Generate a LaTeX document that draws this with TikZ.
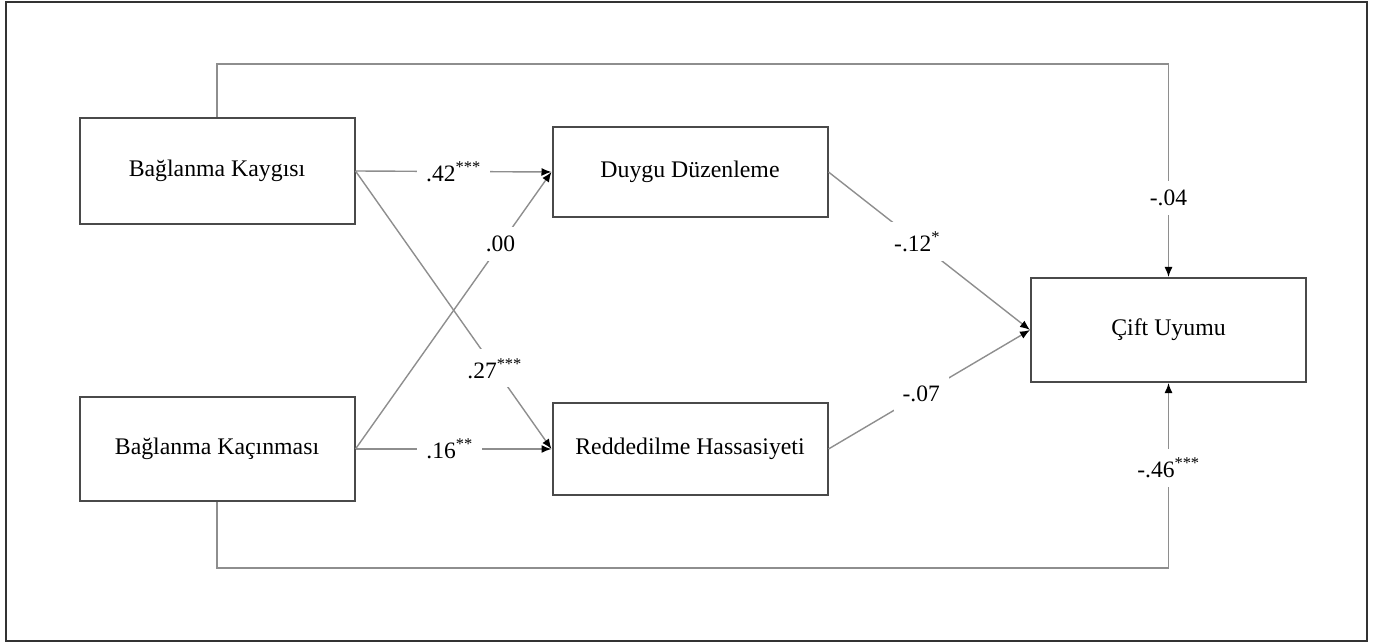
\documentclass[tikz,border=0pt]{standalone}
\usepackage{fontspec}
\setmainfont{Liberation Serif}
\usetikzlibrary{arrows.meta}
\definecolor{boxline}{HTML}{4A4A4A}
\definecolor{conn}{HTML}{8E8E8E}
\tikzset{
  varbox/.style={draw=boxline, line width=2pt, inner sep=0pt, minimum width=275pt,
     font=\fontsize{23.8}{28}\selectfont, text=black},
  path/.style={draw=conn, line width=1.4pt, -{Latex[length=10pt,width=8pt,black]}},
  coef/.style={fill=white, inner sep=9pt, font=\fontsize{23.5}{28}\selectfont, text=black},
}
\begin{document}
\begin{tikzpicture}[x=1pt,y=-1pt]
\useasboundingbox (0,0) rectangle (1374,644);
\draw[line width=1.5pt, draw=black!80] (6,2) rectangle (1367,641);

\node[varbox, minimum height=106pt] (bk) at (217,171) {Bağlanma Kaygısı};
\node[varbox, minimum height=104pt] (bkc) at (217,449) {Bağlanma Kaçınması};
\node[varbox, minimum height=90pt] (dd) at (690,172) {Duygu Düzenleme};
\node[varbox, minimum height=92pt] (rh) at (690,449) {Reddedilme Hassasiyeti};
\node[varbox, minimum height=104pt] (cu) at (1168.5,330) {Çift Uyumu};

\coordinate (tl) at (217,64);
\coordinate (trt) at (1168.5,64);
\coordinate (bl) at (217,568);
\coordinate (brt) at (1168.5,568);

\draw[path] (bk.east) -- node[coef, pos=0.5] {.42\textsuperscript{***}} (dd.west);
\draw[path] (bk.east) -- node[coef, pos=0.71] {.27\textsuperscript{***}} (rh.west);
\draw[path] (bkc.east) -- node[coef, pos=0.74] {.00} (dd.west);
\draw[path] (bkc.east) -- node[coef, pos=0.48] {.16\textsuperscript{**}} (rh.west);
\draw[path] (dd.east) -- node[coef, pos=0.44] {-.12\textsuperscript{*}} (cu.west);
\draw[path] (rh.east) -- node[coef, pos=0.46] {-.07} (cu.west);
\draw[path] (bk.north) -- (tl) -- (trt) -- node[coef, pos=0.63] {-.04} (cu.north);
\draw[path] (bkc.south) -- (bl) -- (brt) -- node[coef, pos=0.54] {-.46\textsuperscript{***}} (cu.south);
\end{tikzpicture}
\end{document}
